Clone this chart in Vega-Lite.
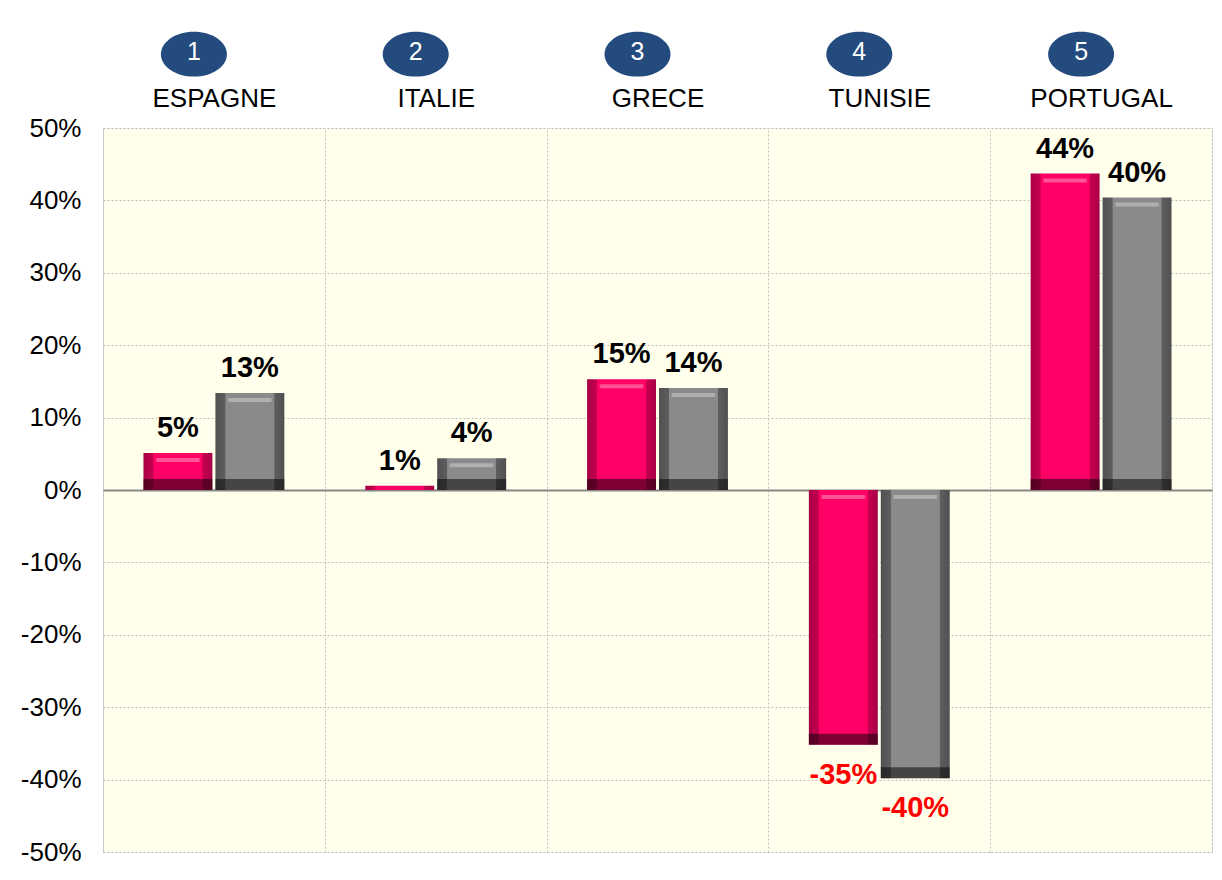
{
  "$schema": "https://vega.github.io/schema/vega-lite/v6.json",
  "autosize": {"type": "none"},
  "width": 1109,
  "height": 724,
  "padding": {"left": 103, "top": 128, "right": 10, "bottom": 28},
  "background": "white",
  "config": {
    "font": "Liberation Sans",
    "locale": {"number": {"decimal": ".", "thousands": ",", "grouping": [3], "currency": ["", ""], "minus": "-"}},
    "view": {"stroke": "#c0c0c0", "strokeDash": [2, 2], "fill": "#FFFFEB"}
  },
  "datasets": {
    "bars": [
      {"country": "ESPAGNE", "series": "A", "value": 0.051},
      {"country": "ESPAGNE", "series": "B", "value": 0.134},
      {"country": "ITALIE", "series": "A", "value": 0.006},
      {"country": "ITALIE", "series": "B", "value": 0.044},
      {"country": "GRECE", "series": "A", "value": 0.153},
      {"country": "GRECE", "series": "B", "value": 0.141},
      {"country": "TUNISIE", "series": "A", "value": -0.352},
      {"country": "TUNISIE", "series": "B", "value": -0.398},
      {"country": "PORTUGAL", "series": "A", "value": 0.437},
      {"country": "PORTUGAL", "series": "B", "value": 0.404}
    ],
    "heads": [
      {"country": "ESPAGNE", "rank": "1"},
      {"country": "ITALIE", "rank": "2"},
      {"country": "GRECE", "rank": "3"},
      {"country": "TUNISIE", "rank": "4"},
      {"country": "PORTUGAL", "rank": "5"}
    ]
  },
  "layer": [
    {
      "data": {"name": "bars"},
      "transform": [{"filter": "datum.series === 'A'"}],
      "mark": {"type": "bar", "fill": {"gradient": "linear", "x1": 0, "y1": 0, "x2": 1, "y2": 0, "stops": [
        {"offset": 0, "color": "#A80046"}, {"offset": 0.14, "color": "#C6004F"}, {"offset": 0.15, "color": "#FF0066"},
        {"offset": 0.85, "color": "#FF0066"}, {"offset": 0.86, "color": "#C6004F"}, {"offset": 1, "color": "#A80046"}]}},
      "encoding": {
        "x": {"field": "country", "type": "nominal", "sort": ["ESPAGNE", "ITALIE", "GRECE", "TUNISIE", "PORTUGAL"],
          "scale": {"paddingInner": 0, "paddingOuter": 0},
          "axis": {"orient": "top", "title": null, "labelAngle": 0, "labelFontSize": 26, "labelColor": "black", "labelPadding": 17,
            "ticks": false, "domain": false, "grid": true, "tickBand": "extent", "gridColor": "#c0c0c0", "gridDash": [2, 2], "gridWidth": 1}},
        "xOffset": {"field": "series", "type": "nominal", "scale": {"domain": ["A", "B"], "paddingInner": 0.042, "paddingOuter": 0.5625}},
        "y": {"field": "value", "type": "quantitative", "scale": {"domain": [-0.5, 0.5], "nice": false},
          "axis": {"title": null, "values": [-0.5, -0.4, -0.3, -0.2, -0.1, 0, 0.1, 0.2, 0.3, 0.4, 0.5], "format": ".0%",
            "labelFontSize": 26, "labelColor": "black", "labelPadding": 22, "ticks": false, "domain": false,
            "labelFlush": false, "labelOverlap": false, "grid": true,
            "gridColor": {"condition": {"test": "datum.value === 0", "value": "#888888"}, "value": "#c0c0c0"},
            "gridDash": {"condition": {"test": "datum.value === 0", "value": []}, "value": [2, 2]},
            "gridWidth": {"condition": {"test": "datum.value === 0", "value": 2}, "value": 1}}}
      }
    },
    {
      "data": {"name": "bars"},
      "transform": [{"filter": "datum.series === 'B'"}],
      "mark": {"type": "bar", "fill": {"gradient": "linear", "x1": 0, "y1": 0, "x2": 1, "y2": 0, "stops": [
        {"offset": 0, "color": "#505050"}, {"offset": 0.14, "color": "#5E5E5E"}, {"offset": 0.15, "color": "#8A8A8A"},
        {"offset": 0.85, "color": "#8A8A8A"}, {"offset": 0.86, "color": "#5E5E5E"}, {"offset": 1, "color": "#505050"}]}},
      "encoding": {
        "x": {"field": "country", "type": "nominal", "sort": ["ESPAGNE", "ITALIE", "GRECE", "TUNISIE", "PORTUGAL"]},
        "xOffset": {"field": "series", "type": "nominal"},
        "y": {"field": "value", "type": "quantitative"}
      }
    },
    {
      "data": {"name": "bars"},
      "transform": [{"filter": "datum.value > 0.02"}],
      "mark": {"type": "bar", "y2Offset": -11, "fill": "rgba(0,0,0,0.5)"},
      "encoding": {
        "x": {"field": "country", "type": "nominal", "sort": ["ESPAGNE", "ITALIE", "GRECE", "TUNISIE", "PORTUGAL"]},
        "xOffset": {"field": "series", "type": "nominal"},
        "y": {"datum": 0, "type": "quantitative"},
        "y2": {"datum": 0}
      }
    },
    {
      "data": {"name": "bars"},
      "transform": [{"filter": "datum.value < -0.02"}],
      "mark": {"type": "bar", "y2Offset": -11, "fill": "rgba(0,0,0,0.5)"},
      "encoding": {
        "x": {"field": "country", "type": "nominal", "sort": ["ESPAGNE", "ITALIE", "GRECE", "TUNISIE", "PORTUGAL"]},
        "xOffset": {"field": "series", "type": "nominal"},
        "y": {"field": "value", "type": "quantitative"},
        "y2": {"field": "value"}
      }
    },
    {
      "data": {"name": "bars"},
      "transform": [{"filter": "datum.value > 0.02"}],
      "mark": {"type": "bar", "yOffset": 5, "y2Offset": 9, "fill": {"gradient": "linear", "x1": 0, "y1": 0, "x2": 1, "y2": 0, "stops": [
        {"offset": 0, "color": "rgba(255,255,255,0)"}, {"offset": 0.17, "color": "rgba(255,255,255,0)"}, {"offset": 0.2, "color": "rgba(255,255,255,0.32)"},
        {"offset": 0.8, "color": "rgba(255,255,255,0.32)"}, {"offset": 0.83, "color": "rgba(255,255,255,0)"}, {"offset": 1, "color": "rgba(255,255,255,0)"}]}},
      "encoding": {
        "x": {"field": "country", "type": "nominal", "sort": ["ESPAGNE", "ITALIE", "GRECE", "TUNISIE", "PORTUGAL"]},
        "xOffset": {"field": "series", "type": "nominal"},
        "y": {"field": "value", "type": "quantitative"},
        "y2": {"field": "value"}
      }
    },
    {
      "data": {"name": "bars"},
      "transform": [{"filter": "datum.value < -0.02"}],
      "mark": {"type": "bar", "yOffset": 5, "y2Offset": 9, "fill": {"gradient": "linear", "x1": 0, "y1": 0, "x2": 1, "y2": 0, "stops": [
        {"offset": 0, "color": "rgba(255,255,255,0)"}, {"offset": 0.17, "color": "rgba(255,255,255,0)"}, {"offset": 0.2, "color": "rgba(255,255,255,0.32)"},
        {"offset": 0.8, "color": "rgba(255,255,255,0.32)"}, {"offset": 0.83, "color": "rgba(255,255,255,0)"}, {"offset": 1, "color": "rgba(255,255,255,0)"}]}},
      "encoding": {
        "x": {"field": "country", "type": "nominal", "sort": ["ESPAGNE", "ITALIE", "GRECE", "TUNISIE", "PORTUGAL"]},
        "xOffset": {"field": "series", "type": "nominal"},
        "y": {"datum": 0, "type": "quantitative"},
        "y2": {"datum": 0}
      }
    },
    {
      "data": {"name": "bars"},
      "transform": [{"filter": "datum.value >= 0"}],
      "mark": {"type": "text", "baseline": "bottom", "align": "center", "dy": -10, "fontSize": 29, "fontWeight": "bold", "color": "black"},
      "encoding": {
        "x": {"field": "country", "type": "nominal", "sort": ["ESPAGNE", "ITALIE", "GRECE", "TUNISIE", "PORTUGAL"]},
        "xOffset": {"field": "series", "type": "nominal"},
        "y": {"field": "value", "type": "quantitative"},
        "text": {"field": "value", "type": "quantitative", "format": ".0%"}
      }
    },
    {
      "data": {"name": "bars"},
      "transform": [{"filter": "datum.value < 0"}],
      "mark": {"type": "text", "baseline": "top", "align": "center", "dy": 16, "fontSize": 29, "fontWeight": "bold", "color": "#FF0000"},
      "encoding": {
        "x": {"field": "country", "type": "nominal", "sort": ["ESPAGNE", "ITALIE", "GRECE", "TUNISIE", "PORTUGAL"]},
        "xOffset": {"field": "series", "type": "nominal"},
        "y": {"field": "value", "type": "quantitative"},
        "text": {"field": "value", "type": "quantitative", "format": ".0%"}
      }
    },
    {
      "data": {"name": "heads"},
      "mark": {"type": "point", "shape": "M-1,0A1,0.68,0,1,1,1,0A1,0.68,0,1,1,-1,0Z", "size": 4356, "filled": true, "fill": "#234B7D", "opacity": 1, "xOffset": -20},
      "encoding": {
        "x": {"field": "country", "type": "nominal", "sort": ["ESPAGNE", "ITALIE", "GRECE", "TUNISIE", "PORTUGAL"]},
        "y": {"datum": 0.602, "type": "quantitative"}
      }
    },
    {
      "data": {"name": "heads"},
      "mark": {"type": "text", "fontSize": 25, "color": "white", "baseline": "middle", "align": "center", "xOffset": -20, "dy": -2},
      "encoding": {
        "x": {"field": "country", "type": "nominal", "sort": ["ESPAGNE", "ITALIE", "GRECE", "TUNISIE", "PORTUGAL"]},
        "y": {"datum": 0.602, "type": "quantitative"},
        "text": {"field": "rank", "type": "nominal"}
      }
    }
  ]
}
